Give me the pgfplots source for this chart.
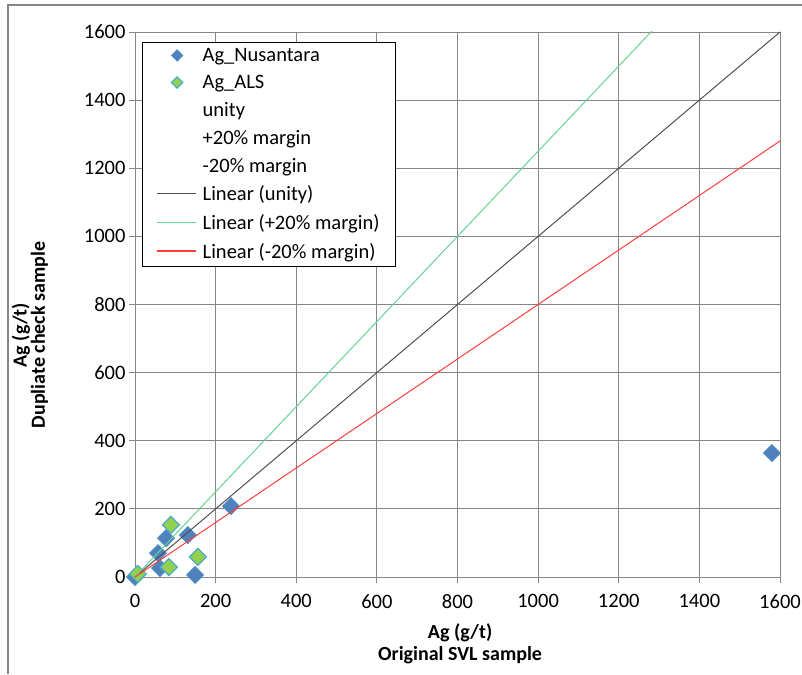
\documentclass[border=0pt]{standalone}
\usepackage{fontspec}
\setmainfont{Carlito}
\usepackage{pgfplots}
\pgfplotsset{compat=1.18}

\definecolor{nusblue}{RGB}{79,129,189}
\definecolor{alsgreen}{RGB}{146,208,80}
\definecolor{edgecyan}{RGB}{75,172,198}
\definecolor{gridgray}{RGB}{134,134,134}
\definecolor{unitygray}{RGB}{80,80,80}
\definecolor{plusgreen}{RGB}{102,210,150}
\definecolor{minusred}{RGB}{255,60,60}

\pgfplotsset{
  markleg/.style={legend image code/.code={\path (0pt,0pt) (43pt,0pt);
      \draw[##1, mark size=4pt] plot coordinates {(20pt,0pt)};}},
  lineleg/.style={legend image code/.code={\path (0pt,0pt) (43pt,0pt);
      \draw[#1, line width=1.6pt] (0pt,0.5pt) -- (39pt,0.5pt);}},
}

\begin{document}
\begin{tikzpicture}[x=1pt,y=1pt]
\useasboundingbox (-135,-97) rectangle (667,577);
% outer chart frame (left and top edges visible)
\draw[gridgray, line width=1.5pt] (-127,-97) -- (-127,572) -- (667,572);

\begin{axis}[
    at={(0,0)}, anchor=south west,
    scale only axis, width=645pt, height=545pt,
    xmin=0, xmax=1600, ymin=0, ymax=1600,
    xtick distance=200, ytick distance=200,
    grid=major, grid style={gridgray, line width=0.8pt},
    axis line style={gridgray, line width=0.8pt},
    tick style={gridgray, line width=0.8pt},
    tick align=outside, major tick length=6pt,
    xtick pos=bottom, ytick pos=left,
    font=\fontsize{20.5}{24}\selectfont,
    /pgf/number format/assume math mode=true,
    /pgf/number format/1000 sep={},
    ticklabel style={font=\fontsize{20.5}{24}\selectfont},
    xticklabel style={yshift=-8pt},
    xlabel={Ag (g/t)\\Original SVL sample},
    ylabel={Ag (g/t)\\Dupliate check sample},
    xlabel style={font=\fontsize{20}{22}\selectfont\bfseries, align=center,
                  at={(axis description cs:0.504,-0.123)}, anchor=center},
    ylabel style={font=\fontsize{20}{17}\selectfont\bfseries, align=center,
                  at={(axis description cs:-0.163,0.444)}, anchor=center},
    clip mode=individual,
    legend cell align=left,
    legend style={at={(axis description cs:0.011,0.982)}, anchor=north west,
                  draw=black, line width=0.6pt, fill=white,
                  font=\fontsize{20.5}{24}\selectfont,
                  inner xsep=14pt, inner ysep=4pt, row sep=8.3pt},
  ]
  % Scatter: Ag_Nusantara
  \addplot[only marks, mark=square*, mark size=6pt,
           mark options={rotate=45, fill=nusblue, draw=nusblue!70!edgecyan, line width=0.8pt},
           markleg]
    coordinates {(0,0) (57,70) (62,26) (77,114) (131,123) (149,6) (238,208) (1580,364)};
  \addlegendentry{Ag\_Nusantara}
  % Scatter: Ag_ALS
  \addplot[only marks, mark=square*, mark size=6pt,
           mark options={rotate=45, fill=alsgreen, draw=edgecyan, line width=1.2pt},
           markleg]
    coordinates {(7,9) (84,29) (89,153) (156,59)};
  \addlegendentry{Ag\_ALS}
  % series without any visible style
  \addlegendimage{empty legend}\addlegendentry{unity}
  \addlegendimage{empty legend}\addlegendentry{+20\% margin}
  \addlegendimage{empty legend}\addlegendentry{-20\% margin}
  % Trend lines
  \addplot[unitygray, line width=1pt, mark=none, lineleg=unitygray]
    coordinates {(0,0) (1600,1600)};
  \addlegendentry{Linear (unity)}
  \addplot[plusgreen, line width=1pt, mark=none, lineleg=plusgreen]
    coordinates {(0,0) (1600,2000)};
  \addlegendentry{Linear (+20\% margin)}
  \addplot[minusred, line width=1pt, mark=none, lineleg=minusred]
    coordinates {(0,0) (1600,1280)};
  \addlegendentry{Linear (-20\% margin)}
\end{axis}
\end{tikzpicture}
\end{document}
